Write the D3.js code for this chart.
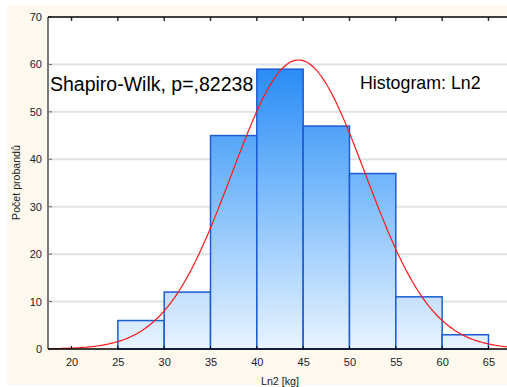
<!DOCTYPE html>
<html><head><meta charset="utf-8">
<script src="https://cdn.jsdelivr.net/npm/d3@7"></script>
<style>html,body{margin:0;padding:0;background:#fff;}svg{display:block;font-family:"Liberation Sans",Arial,sans-serif;}</style>
</head><body>
<svg id="c" width="507" height="387"></svg>
<script>
const binStarts = [25, 30, 35, 40, 45, 50, 55, 60];
const binWidth = 5;
const counts = [6, 12, 45, 59, 47, 37, 11, 3];
const xTicks = [20, 25, 30, 35, 40, 45, 50, 55, 60, 65];
const yTicks = [0, 10, 20, 30, 40, 50, 60, 70];
const fitMean = 44.5, fitSD = 7.2;
const nTotal = d3.sum(counts);

const svg = d3.select("#c");
const L = 48, T = 17, R = 507, B = 349;
const x = d3.scaleLinear().domain([17.46, 67.0]).range([L, R]);
const y = d3.scaleLinear().domain([0, 70]).range([B, T]);

svg.append("rect").attr("x",7).attr("y",5).attr("width",500).attr("height",380).attr("fill","#fdf9ef");
svg.append("rect").attr("x",L).attr("y",T).attr("width",R-L).attr("height",B-T).attr("fill","#fff");

const defs = svg.append("defs");
const g = defs.append("linearGradient").attr("id","bg").attr("gradientUnits","userSpaceOnUse")
  .attr("x1",0).attr("x2",0).attr("y1",y(d3.max(counts))).attr("y2",B);
g.append("stop").attr("offset","0").attr("stop-color","#2a8cf6");
g.append("stop").attr("offset","0.45").attr("stop-color","#7dbcfb");
g.append("stop").attr("offset","1").attr("stop-color","#e9f4ff");

// gridlines
svg.append("g").selectAll("line").data(yTicks.filter(v=>v>0&&v<70)).join("line")
  .attr("x1",L).attr("x2",R).attr("y1",d=>y(d)).attr("y2",d=>y(d))
  .attr("stroke","#e2e2e2").attr("stroke-width",2);

// bars
svg.append("g").selectAll("rect").data(counts).join("rect")
  .attr("x",(d,i)=>x(binStarts[i]))
  .attr("width",(d,i)=>x(binStarts[i]+binWidth)-x(binStarts[i]))
  .attr("y",d=>y(d)).attr("height",d=>B-y(d))
  .attr("fill","url(#bg)").attr("stroke","#1c5bd4").attr("stroke-width",1.5);

// normal fit curve
const pts = d3.range(17.5, 67.01, 0.25).map(v => [v, nTotal*binWidth/(fitSD*Math.sqrt(2*Math.PI))*Math.exp(-0.5*((v-fitMean)/fitSD)**2)]);
svg.append("path").datum(pts).attr("fill","none").attr("stroke","#ff1a1a").attr("stroke-width",1.2)
  .attr("d", d3.line().x(d=>x(d[0])).y(d=>y(d[1])).curve(d3.curveBasis));

// axes
const xa = svg.append("g").attr("transform",`translate(0,${B})`)
  .call(d3.axisBottom(x).tickValues(xTicks).tickSize(0).tickPadding(9));
xa.select(".domain").remove();
xa.selectAll("text").attr("font-size",11).attr("fill","#222").attr("font-family","Liberation Sans, Arial");
svg.append("g").selectAll("line").data(xTicks).join("line")
  .attr("x1",d=>x(d)).attr("x2",d=>x(d)).attr("y1",B).attr("y2",B-3).attr("stroke","#000");
svg.append("g").selectAll("line").data(xTicks).join("line")
  .attr("x1",d=>x(d)).attr("x2",d=>x(d)).attr("y1",T).attr("y2",T+4).attr("stroke","#333").attr("stroke-width",1.5);

const ya = svg.append("g").attr("transform",`translate(${L},0)`)
  .call(d3.axisLeft(y).tickValues(yTicks).tickSize(0).tickPadding(6));
ya.select(".domain").remove();
ya.selectAll("text").attr("font-size",11).attr("fill","#222").attr("font-family","Liberation Sans, Arial");
svg.append("g").selectAll("line").data(yTicks).join("line")
  .attr("x1",L).attr("x2",L+4).attr("y1",d=>y(d)).attr("y2",d=>y(d)).attr("stroke","#666");

svg.append("line").attr("x1",L).attr("x2",L).attr("y1",T).attr("y2",B).attr("stroke","#7a7a7a").attr("stroke-width",2);
svg.append("line").attr("x1",L).attr("x2",R).attr("y1",B).attr("y2",B).attr("stroke","#000").attr("stroke-width",1.5);
svg.append("line").attr("x1",L).attr("x2",R).attr("y1",T).attr("y2",T).attr("stroke","#000").attr("stroke-width",1.5);

// texts
svg.append("text").attr("x",50).attr("y",91).attr("font-size",19.5).attr("fill","#000").text("Shapiro-Wilk, p=,82238");
svg.append("text").attr("x",360).attr("y",88.5).attr("font-size",17.8).attr("fill","#000").text("Histogram: Ln2");
svg.append("text").attr("x",280).attr("y",385).attr("text-anchor","middle").attr("font-size",10.7).attr("fill","#222").text("Ln2 [kg]");
svg.append("text").attr("transform","translate(20,182.5) rotate(-90)").attr("text-anchor","middle").attr("font-size",10.6).attr("fill","#222").text("Počet probandů");
</script>
</body></html>
